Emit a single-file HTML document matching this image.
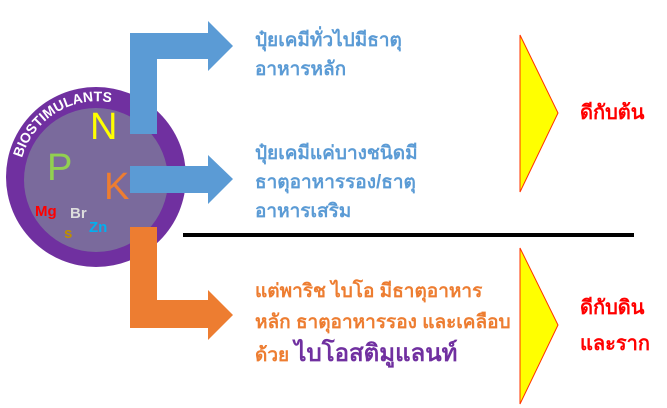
<!DOCTYPE html>
<html><head><meta charset="utf-8"><style>
body{margin:0;width:667px;height:408px;background:#fff;position:relative;overflow:hidden;font-family:"Liberation Sans","Noto Sans CJK SC",sans-serif}
.t{position:absolute;font-weight:bold;font-size:19px;line-height:29px;white-space:nowrap}
</style></head><body>
<svg width="667" height="408" style="position:absolute;left:0;top:0">
<circle cx="96" cy="177" r="90" fill="#7030a0"/>
<circle cx="96" cy="180" r="72" fill="#7a6a9c"/>
<defs><path id="arc" d="M22,158 A78,78 0 0 1 150,122"/></defs>
<text font-family="Liberation Sans" font-weight="bold" font-size="14" fill="#fff"><textPath href="#arc">BIOSTIMULANTS</textPath></text>
<text x="90" y="139" font-family="Liberation Sans" font-size="38" fill="#ffff00">N</text>
<text x="47" y="180" font-family="Liberation Sans" font-size="38" fill="#92d050">P</text>
<text x="104" y="199" font-family="Liberation Sans" font-size="38" fill="#ed7d31">K</text>
<text x="35" y="216" font-family="Liberation Sans" font-weight="bold" font-size="15" fill="#ff0000">Mg</text>
<text x="70" y="218" font-family="Liberation Sans" font-weight="bold" font-size="15" fill="#dddddd">Br</text>
<text x="64" y="238" font-family="Liberation Sans" font-weight="bold" font-size="15" fill="#bf8f00">s</text>
<text x="89" y="232" font-family="Liberation Sans" font-weight="bold" font-size="15" fill="#00b0f0">Zn</text>
<polygon points="130,134 157,134 157,59 208,59 208,71 233,46 208,21 208,33 130,33" fill="#5b9bd5"/>
<polygon points="130,166 208,166 208,155 233,179 208,204 208,193 130,193" fill="#5b9bd5"/>
<polygon points="130,227 157,227 157,300 208,300 208,290 233,315 208,340 208,328 130,328" fill="#ed7d31"/>
<rect x="183" y="233" width="451" height="4" fill="#000"/>
<polygon points="520,35 558,113 520,192" fill="#ffff00" stroke="#ff3300" stroke-width="1"/>
<polygon points="520,248 558,325 520,404" fill="#ffff00" stroke="#ff3300" stroke-width="1"/>
</svg>
<div class="t" style="left:255px;top:26px;color:#5b9bd5">ปุ๋ยเคมีทั่วไปมีธาตุ<br>อาหารหลัก</div>
<div class="t" style="left:255px;top:139px;color:#5b9bd5">ปุ๋ยเคมีแค่บางชนิดมี<br>ธาตุอาหารรอง/ธาตุ<br>อาหารเสริม</div>
<div class="t" style="left:255px;top:276px;color:#ed7d31;line-height:31px">แต่พาริช ไบโอ มีธาตุอาหาร<br>หลัก ธาตุอาหารรอง และเคลือบ<br>ด้วย <span style="color:#7030a0;font-size:24px">ไบโอสติมูแลนท์</span></div>
<div class="t" style="left:580px;top:99px;color:#ff0000;font-size:20px">ดีกับต้น</div>
<div class="t" style="left:580px;top:290px;color:#ff0000;font-size:20px;line-height:36px">ดีกับดิน<br>และราก</div>
</body></html>
